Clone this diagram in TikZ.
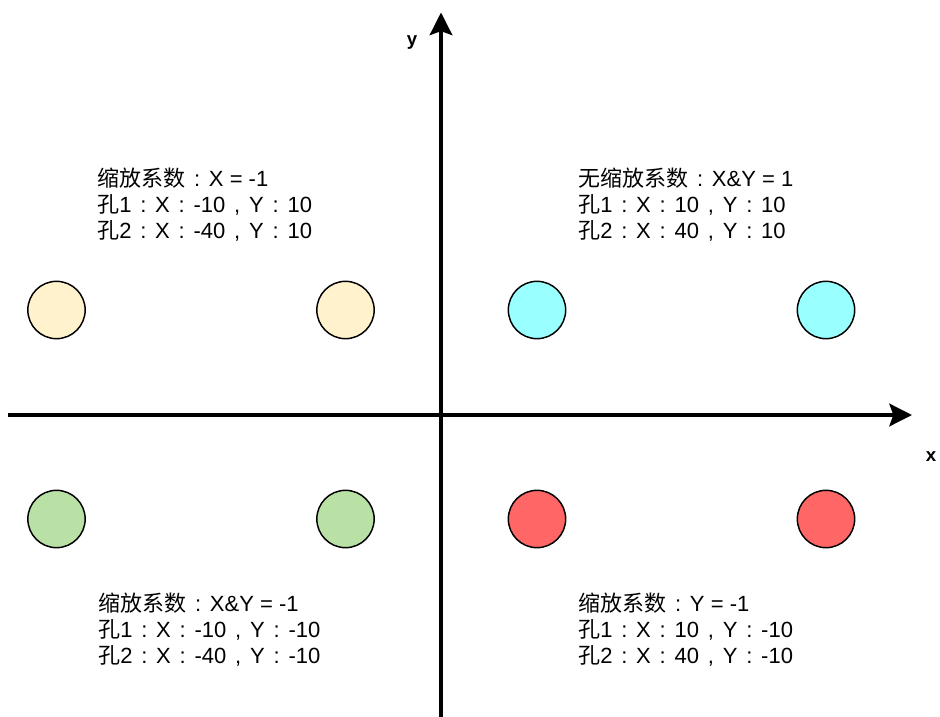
\documentclass[tikz,border=0pt]{standalone}
\usepackage{fontspec}
\setmainfont{Liberation Sans}
\newfontfamily\cjk{Noto Sans CJK SC}
\usetikzlibrary{arrows.meta}
\newcommand\zh[1]{{\cjk #1}}
\newcommand\cc{\makebox[17.8pt]{:}}
\newcommand\cm{\makebox[17.8pt]{,}}
\definecolor{cyel}{HTML}{FFF2CC}
\definecolor{ccya}{HTML}{99FFFF}
\definecolor{cgrn}{HTML}{B9E0A5}
\definecolor{cred}{HTML}{FF6666}
\begin{document}
\begin{tikzpicture}[x=0.75pt,y=-0.75pt,
  axis/.style={line width=2.4pt,-{Stealth[length=17pt,width=17pt,inset=3pt]}},
  hole/.style={circle,draw=black,line width=1.1pt,minimum size=43pt,inner sep=0pt},
  info/.style={anchor=west,align=left,inner sep=0pt,font=\fontsize{16.5pt}{19.5pt}\selectfont},
  axlab/.style={font=\fontsize{14pt}{16pt}\selectfont\bfseries,inner sep=0pt}]
\useasboundingbox (0,0) rectangle (940,717);
\coordinate (yb) at (441,717);
\coordinate (yt) at (441,12.5);
\coordinate (xl) at (8,415);
\coordinate (xr) at (912,415);
\draw[axis] (yb) -- (yt);
\draw[axis] (xl) -- (xr);
\node[axlab] (ylab) at (412,43) {y};
\node[axlab] (xlab) at (931,457) {x};
\node[hole,fill=cyel] (h1) at (56.5,310) {};
\node[hole,fill=cyel] (h2) at (345.5,310) {};
\node[hole,fill=ccya] (h3) at (537,310) {};
\node[hole,fill=ccya] (h4) at (826,310) {};
\node[hole,fill=cgrn] (h5) at (56.5,519) {};
\node[hole,fill=cgrn] (h6) at (345.5,519) {};
\node[hole,fill=cred] (h7) at (537,519) {};
\node[hole,fill=cred] (h8) at (826,519) {};
\node[info] (t1) at (97,205) {\zh{缩放系数}\cc X = -1\\\zh{孔}1\cc X\cc -10\cm Y\cc 10\\\zh{孔}2\cc X\cc -40\cm Y\cc 10};
\node[info] (t2) at (578,205) {\zh{无缩放系数}\cc X\&Y = 1\\\zh{孔}1\cc X\cc 10\cm Y\cc 10\\\zh{孔}2\cc X\cc 40\cm Y\cc 10};
\node[info] (t3) at (98,630) {\zh{缩放系数}\cc X\&Y = -1\\\zh{孔}1\cc X\cc -10\cm Y\cc -10\\\zh{孔}2\cc X\cc -40\cm Y\cc -10};
\node[info] (t4) at (578,630) {\zh{缩放系数}\cc Y = -1\\\zh{孔}1\cc X\cc 10\cm Y\cc -10\\\zh{孔}2\cc X\cc 40\cm Y\cc -10};
\end{tikzpicture}
\end{document}
